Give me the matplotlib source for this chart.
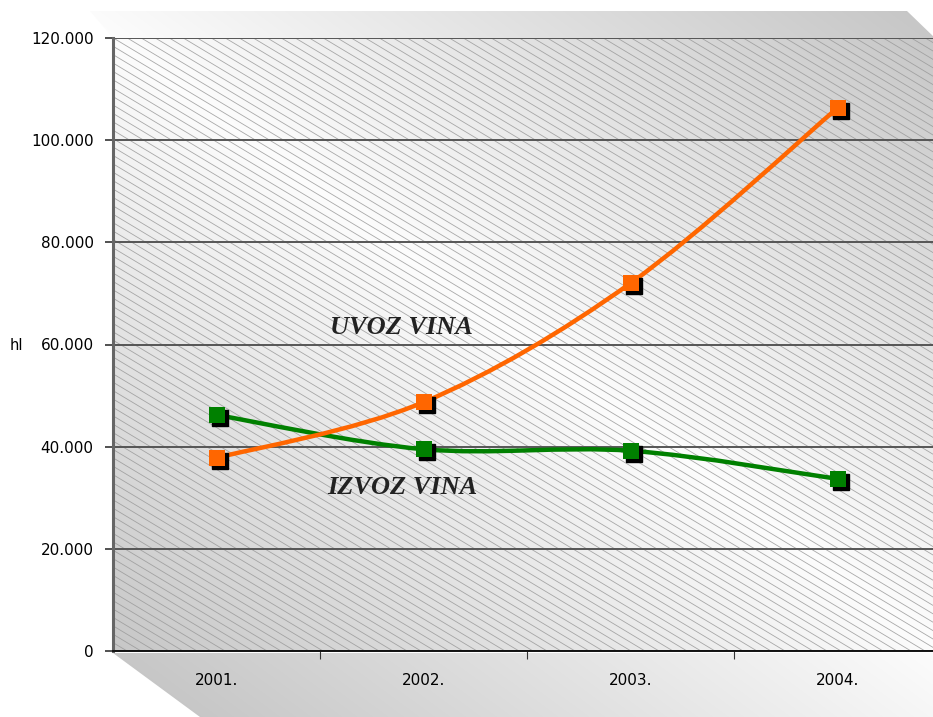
import numpy as np
import matplotlib
matplotlib.use("Agg")
import matplotlib.pyplot as plt
from matplotlib.path import Path
from matplotlib.patches import Polygon, Rectangle, PathPatch
from matplotlib.collections import LineCollection
from matplotlib.transforms import offset_copy

years = ["2001.", "2002.", "2003.", "2004."]
uvoz = [37800, 48700, 72000, 106300]
izvoz = [46200, 39500, 39200, 33700]
y_ticks = [0, 20000, 40000, 60000, 80000, 100000, 120000]

W, H = 933, 717
fig = plt.figure(figsize=(W / 100, H / 100), dpi=100)

# background in pixel coordinates
bg = fig.add_axes([0, 0, 1, 1])
bg.set_xlim(0, W)
bg.set_ylim(H, 0)
bg.axis("off")

X0, X1, Y0, Y1 = 113, 941, 38, 651
xx, yy = np.meshgrid(np.arange(W), np.arange(H))
u = (xx - X0) / (X1 - X0)
v = (yy - Y0) / (Y1 - Y0)
t = np.clip(np.abs(u - v), 0, 1.1)
shade = 0.99 - 0.21 * t
img = np.dstack([shade, shade, shade])

wall = Rectangle((X0, Y0), X1 - X0, Y1 - Y0, transform=bg.transData,
                 facecolor="none", edgecolor="none")
top = Polygon([(90, 11), (907, 11), (935, 38), (X0, 38)], closed=True,
              transform=bg.transData, facecolor="none", edgecolor="none")
floor = Polygon([(X0, 653), (X1, 653), (1030, H), (200, H)], closed=True,
                transform=bg.transData, facecolor="none", edgecolor="none")
for clip in (wall, top, floor):
    bg.add_patch(clip)
    im = bg.imshow(img, extent=(0, W, H, 0), vmin=0, vmax=1, zorder=0)
    im.set_clip_path(clip)

# diagonal hatch on the wall
segs = []
slope = 0.6
step = 14
for x_start in np.arange(X0 - (Y1 - Y0) / slope, X1, step):
    segs.append([(x_start, Y0), (x_start + (Y1 - Y0) / slope, Y1)])
hatch = LineCollection(segs, colors="#9a9a9a", linewidths=0.6, alpha=0.85, zorder=1)
bg.add_collection(hatch)
hatch.set_clip_path(wall)

# main axes
ax = fig.add_axes([X0 / W, 1 - Y1 / H, (X1 - X0) / W, (Y1 - Y0) / H])
ax.patch.set_alpha(0)
ax.set_xlim(-0.5, 3.5)
ax.set_ylim(0, 120000)

ax.set_yticks(y_ticks)
ax.set_yticklabels([f"{v:,.0f}".replace(",", ".") for v in y_ticks])
ax.yaxis.grid(True, color="#555555", linewidth=1.4)
ax.set_axisbelow(True)

ax.set_xticks([0.5, 1.5, 2.5, 3.5])
ax.set_xticklabels([])
ax.set_xticks([0, 1, 2, 3], minor=True)
ax.set_xticklabels(years, minor=True)
ax.tick_params(axis="x", which="minor", length=0, pad=16, labelsize=11)
ax.tick_params(axis="x", which="major", length=6, direction="out", color="#333333")
ax.tick_params(axis="y", length=6, width=1.2, pad=8, labelsize=11, color="#333333")

for s in ("top", "right"):
    ax.spines[s].set_visible(False)
ax.spines["left"].set_color("#666666")
ax.spines["left"].set_linewidth(2.2)
ax.spines["bottom"].set_color("#111111")
ax.spines["bottom"].set_linewidth(1.4)


def smooth_path(xs, ys):
    pts = np.column_stack([xs, ys]).astype(float)
    n = len(pts)
    verts = [pts[0]]
    codes = [Path.MOVETO]
    for i in range(n - 1):
        p0 = pts[i - 1] if i > 0 else pts[i]
        p1 = pts[i]
        p2 = pts[i + 1]
        p3 = pts[i + 2] if i + 2 < n else pts[i + 1]
        verts += [p1 + (p2 - p0) / 6, p2 - (p3 - p1) / 6, p2]
        codes += [Path.CURVE4] * 3
    return Path(verts, codes)


xs = np.arange(len(years))
shadow = offset_copy(ax.transData, fig=fig, x=3, y=-3, units="dots")
for vals, col in ((izvoz, "#008000"), (uvoz, "#ff6600")):
    ax.add_patch(PathPatch(smooth_path(xs, vals), facecolor="none", edgecolor=col,
                           linewidth=3.2, zorder=3, capstyle="round"))
    ax.plot(xs, vals, "s", color="black", markersize=11, transform=shadow,
            zorder=4, clip_on=False)
    ax.plot(xs, vals, "s", color=col, markersize=11, markeredgewidth=0,
            zorder=5, clip_on=False)

ax.text(0.893, 63300, "UVOZ VINA", fontsize=19, fontweight="bold", fontstyle="italic",
        family="Liberation Serif", color="#222222", ha="center", va="center")
ax.text(0.897, 32000, "IZVOZ VINA", fontsize=19, fontweight="bold", fontstyle="italic",
        family="Liberation Serif", color="#222222", ha="center", va="center")

fig.text(16 / W, 1 - 345 / H, "hl", fontsize=10.5, ha="center", va="center")

fig.savefig("out.png", dpi=100)
